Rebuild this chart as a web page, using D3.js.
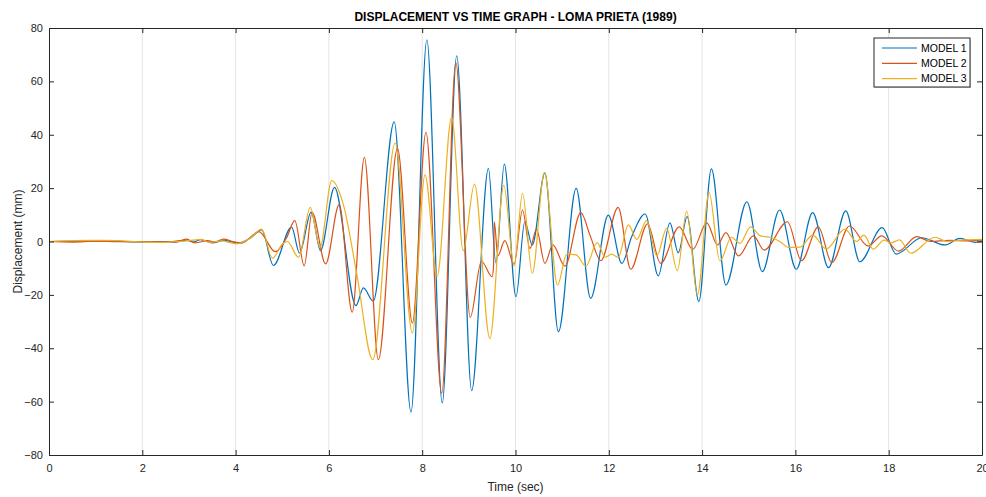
<!DOCTYPE html>
<html><head><meta charset="utf-8">
<script src="https://cdn.jsdelivr.net/npm/d3@7"></script>
<style>
body{margin:0;background:#fff;}
svg{display:block;font-family:"Liberation Sans",Arial,Helvetica,sans-serif;}
</style></head>
<body><svg id="chart" width="986" height="497"></svg>
<script>
const seriesNames = ["MODEL 1","MODEL 2","MODEL 3"];
const seriesColors = ["#0072BD","#D95319","#EDB120"];
const xTicks = [0,2,4,6,8,10,12,14,16,18,20];
const yTicks = [-80,-60,-40,-20,0,20,40,60,80];

// [time (s), displacement (mm)] (peaks / troughs)
const model1 = [[0,0],[0.5,0.1],[1,0.2],[1.5,0],[2,-0.2],[2.4,0],[2.7,-0.3],[2.95,0.5],[3.1,-0.2],[3.25,0.7],[3.5,-0.5],[3.75,0.4],[4.05,-0.6],[4.31,1.2],[4.56,4.3],[4.81,-9],[5.2,5.4],[5.37,-4.3],[5.62,11],[5.82,-3.4],[6.12,20.3],[6.58,-24],[6.74,-17.4],[6.95,-22.4],[7.4,44.8],[7.76,-63.9],[8.1,75.6],[8.43,-60.5],[8.74,69.6],[9.06,-55.9],[9.42,27.4],[9.58,-8],[9.76,29],[10.01,-20.7],[10.2,7.4],[10.36,-1.3],[10.63,25.7],[10.92,-33.8],[11.3,19.9],[11.61,-21.3],[11.99,9.9],[12.28,-8.2],[12.49,1.8],[12.78,10.3],[13.06,-12.9],[13.31,7],[13.49,-4.2],[13.68,9.3],[13.93,-22.5],[14.2,27.2],[14.51,-16.3],[14.96,14.9],[15.29,-11.3],[15.66,11.8],[16.02,-10.4],[16.37,10.8],[16.71,-9.8],[17.08,11.5],[17.38,-7.6],[17.86,5.2],[18.16,-4.7],[18.71,1.4],[19.2,-1.3],[19.53,1.2],[19.85,-0.3],[20,0]];
const model2 = [[0,0],[0.5,-0.2],[1,0.1],[1.5,-0.1],[2,0],[2.5,-0.2],[2.8,0.3],[2.95,0.9],[3.13,-0.5],[3.4,0.3],[3.55,-0.2],[3.74,0.9],[3.95,0],[4.13,-0.6],[4.5,3.7],[4.85,-3.8],[5.09,1.3],[5.27,7.8],[5.47,-9.1],[5.64,10.9],[5.93,-8.4],[6.22,13.8],[6.5,-26.5],[6.76,31.5],[7.06,-44.3],[7.47,35],[7.79,-30.5],[8.08,40.9],[8.42,-56.8],[8.72,67.1],[9.03,-28.4],[9.27,-7.4],[9.5,-13.2],[9.53,-9],[9.545,7.4],[9.62,-5.4],[9.77,0.3],[9.97,-8.5],[10.15,11.8],[10.31,-2.6],[10.45,4.6],[10.63,-8.2],[10.8,-1.3],[11.06,-9.2],[11.4,10.8],[11.6,2.2],[11.83,-7.2],[12.2,12.8],[12.47,-10.4],[12.83,6.6],[13.11,-8.2],[13.51,5.5],[13.8,-3],[14.1,7],[14.33,-1.3],[14.51,3.3],[14.78,-5.4],[15.1,2.1],[15.33,-3.2],[15.83,7.4],[16.13,-7.2],[16.49,5.5],[16.78,-7.9],[17.16,5.8],[17.56,-1.7],[17.85,2.1],[18.21,-3.6],[18.6,1.8],[18.9,0],[19.3,0.4],[19.7,0.2],[20,0.5]];
const model3 = [[0,0],[0.5,0.3],[1,0.4],[1.5,0.3],[2,-0.2],[2.5,-0.3],[2.8,0],[3.0,0.3],[3.26,0.8],[3.45,-0.4],[3.7,0.2],[4.02,-0.9],[4.3,1.0],[4.56,4.6],[4.79,-6.3],[5.0,-1],[5.11,0],[5.35,-5.9],[5.6,12.8],[5.81,-2.2],[6.06,22.8],[6.31,13.8],[6.6,-12.4],[6.94,-44.3],[7.42,36.9],[7.79,-34.3],[8.06,25],[8.32,-13],[8.63,46.5],[8.88,-3.4],[9.12,21.5],[9.45,-36.4],[9.75,21],[9.97,-9.2],[10.15,18],[10.36,-11.9],[10.62,25.8],[10.9,-16.3],[11.1,-4.7],[11.3,-5],[11.51,-9.2],[11.75,-0.4],[11.92,-5.9],[12.06,-4.7],[12.2,-5.9],[12.42,6.2],[12.6,0.8],[12.81,7.8],[13.03,-5.4],[13.24,4.9],[13.47,-10.9],[13.67,11.4],[13.9,-20],[14.15,18.3],[14.38,-7.3],[14.63,1.6],[14.81,-0.7],[15.04,5.5],[15.25,2.1],[15.45,1.6],[15.67,0],[15.85,-2.2],[16.1,-2.1],[16.37,2.4],[16.66,-2.8],[17.06,4.6],[17.31,0],[17.47,2.4],[17.67,-2.9],[17.9,0.5],[18.05,-0.5],[18.23,0.6],[18.47,-4.4],[18.99,1.6],[19.25,0],[19.55,0.5],[20,0.8]];
const allSeries = [model1, model2, model3];

const W = 986, H = 497;
const m = {left:49, right:4, top:28, bottom:42};
const svg = d3.select("#chart");
const x = d3.scaleLinear().domain([0,20]).range([m.left, W-m.right]);
const y = d3.scaleLinear().domain([-80,80]).range([H-m.bottom, m.top]);
const axisColor = "#262626";

// grid (vertical only)
svg.append("g").selectAll("line").data(xTicks.slice(1,-1)).join("line")
  .attr("x1", d=>x(d)).attr("x2", d=>x(d)).attr("y1", y(80)).attr("y2", y(-80))
  .attr("stroke","#e3e3e3").attr("stroke-width",1);

const clip = svg.append("clipPath").attr("id","plotclip").append("rect")
  .attr("x", x(0)).attr("y", y(80)).attr("width", x(20)-x(0)).attr("height", y(-80)-y(80));

const line = d3.line().x(d=>x(d[0])).y(d=>y(d[1])).curve(d3.curveMonotoneX);
const lg = svg.append("g").attr("clip-path","url(#plotclip)");
allSeries.forEach((s,i)=>{
  lg.append("path").datum(s).attr("d", line).attr("fill","none")
    .attr("stroke", seriesColors[i]).attr("stroke-width",1.2).attr("stroke-linejoin","round");
});

function styleAxis(g){
  g.selectAll("path").attr("stroke", axisColor);
  g.selectAll("line").attr("stroke", axisColor);
  g.selectAll("text").attr("fill", axisColor).attr("font-size", 11)
    .attr("font-family", '"Liberation Sans",Arial,sans-serif');
}
svg.append("g").attr("transform",`translate(0,${y(-80)})`)
  .call(d3.axisBottom(x).tickValues(xTicks).tickSize(-5).tickSizeOuter(0).tickPadding(9))
  .call(styleAxis);
svg.append("g").attr("transform",`translate(0,${y(80)})`)
  .call(d3.axisTop(x).tickValues(xTicks).tickSize(-5).tickSizeOuter(0).tickFormat(""))
  .call(styleAxis);
svg.append("g").attr("transform",`translate(${x(0)},0)`)
  .call(d3.axisLeft(y).tickValues(yTicks).tickSize(-5).tickSizeOuter(0).tickPadding(6))
  .call(styleAxis);
svg.append("g").attr("transform",`translate(${x(20)},0)`)
  .call(d3.axisRight(y).tickValues(yTicks).tickSize(-5).tickSizeOuter(0).tickFormat(""))
  .call(styleAxis);

// title & labels
svg.append("text").attr("x", (x(0)+x(20))/2).attr("y", 21).attr("text-anchor","middle")
  .attr("font-weight","bold").attr("font-size",12).attr("fill","#000")
  .text("DISPLACEMENT VS TIME GRAPH - LOMA PRIETA (1989)");
svg.append("text").attr("x", (x(0)+x(20))/2).attr("y", 491).attr("text-anchor","middle")
  .attr("font-size",12).attr("fill",axisColor).text("Time (sec)");
svg.append("text").attr("transform",`translate(22,${(y(80)+y(-80))/2}) rotate(-90)`)
  .attr("text-anchor","middle").attr("font-size",12).attr("fill",axisColor).text("Displacement (mm)");

// legend
const leg = svg.append("g").attr("transform","translate(874,38)");
leg.append("rect").attr("x",1).attr("y",1).attr("width",96).attr("height",49).attr("fill","#d0d0d0");
leg.append("rect").attr("x",0).attr("y",0).attr("width",96).attr("height",49)
  .attr("fill","#fff").attr("stroke",axisColor).attr("stroke-width",1);
seriesNames.forEach((n,i)=>{
  const ry = 10 + i*15.3;
  leg.append("line").attr("x1",8).attr("x2",43).attr("y1",ry).attr("y2",ry)
    .attr("stroke",seriesColors[i]).attr("stroke-width",1.2);
  leg.append("text").attr("x",47).attr("y",ry).attr("dy","0.35em").attr("font-size",10.5)
    .attr("fill","#000").text(n);
});
</script>
</body></html>
